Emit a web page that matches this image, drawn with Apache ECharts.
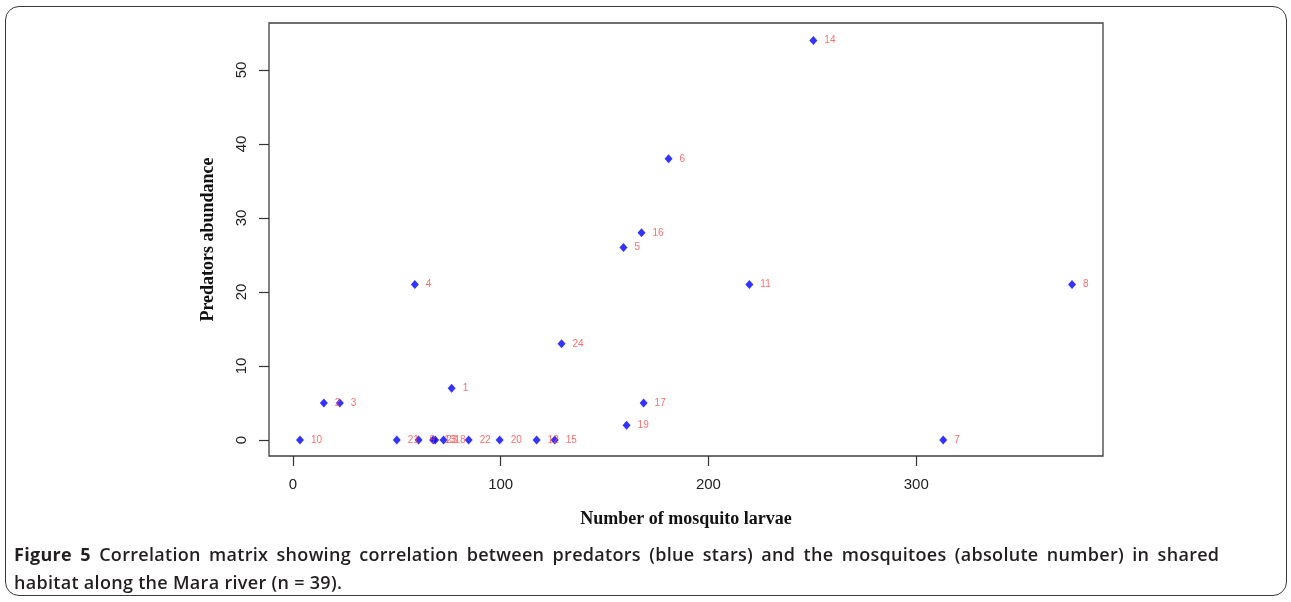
<!DOCTYPE html>
<html>
<head>
<meta charset="utf-8">
<script src="https://cdn.jsdelivr.net/npm/echarts@6/dist/echarts.min.js"></script>
<style>
  html, body { margin: 0; padding: 0; background: #fff; }
  #wrap { position: relative; width: 1291px; height: 602px; overflow: hidden; }
  #frame { position: absolute; left: 5px; top: 6px; width: 1282px; height: 590px;
           border: 1.5px solid #3a3a3a; border-radius: 14px; box-sizing: border-box; }
  #chart { position: absolute; left: 0; top: 0; width: 1291px; height: 602px; }
  #caption { position: absolute; left: 14px; top: 540px; width: 1270px; white-space: nowrap;
             font-family: "Open Sans", sans-serif; font-size: 18px; line-height: 28px;
             color: #231f20; font-weight: 600; letter-spacing: 0.3px; }
  #caption b { font-weight: 700; }
  #caption .l1 { word-spacing: 3.3px; }
</style>
</head>
<body>
<div id="wrap">
  <div id="frame"></div>
  <div id="chart"></div>
  <div id="caption"><span class="l1"><b>Figure 5</b> Correlation matrix showing correlation between predators (blue stars) and the mosquitoes (absolute number) in shared</span><br>habitat along the Mara river (n = 39).</div>
</div>
<script>
// Sample ids, larvae counts (x) and predator abundance (y)
var ids    = ['10','21','9','13','23','18','22','20','12','15','2','3','1','4','24','17','19','5','16','6','11','14','8','7'];
var larvae = [3.4, 50, 60.5, 67.5, 68.5, 72.5, 84.6, 99.5, 117.3, 126, 14.9, 22.6, 76.4, 58.7, 129.3, 168.8, 160.6, 159.1, 167.8, 180.8, 219.7, 250.5, 375, 313];
var predators = [0, 0, 0, 0, 0, 0, 0, 0, 0, 0, 5, 5, 7, 21, 13, 5, 2, 26, 28, 38, 21, 54, 21, 0];
var xTicks = [0, 100, 200, 300];
var yTicks = [0, 10, 20, 30, 40, 50];

var points = larvae.map(function (x, i) { return [x, predators[i], ids[i]]; });

var chart = echarts.init(document.getElementById('chart'), null, { renderer: 'canvas' });
chart.setOption({
  animation: false,
  grid: { left: 269, right: 188, top: 23, bottom: 146, show: true,
          borderColor: '#404040', borderWidth: 1.3, backgroundColor: 'transparent' },
  xAxis: {
    type: 'value', min: -11.5, max: 389.9,
    axisLine: { show: false, onZero: false },
    splitLine: { show: false },
    axisTick: { show: true, inside: false, length: 10, customValues: xTicks, lineStyle: { color: '#333', width: 1.2 } },
    axisLabel: { customValues: xTicks, margin: 21, fontFamily: 'Liberation Sans', fontSize: 15, color: '#222' },
    name: 'Number of mosquito larvae', nameLocation: 'middle', nameGap: 54,
    nameTextStyle: { fontFamily: 'Liberation Serif', fontWeight: 'bold', fontSize: 18, color: '#111' }
  },
  yAxis: {
    type: 'value', min: -2.16, max: 56.35,
    axisLine: { show: false, onZero: false },
    splitLine: { show: false },
    axisTick: { show: true, inside: false, length: 10, customValues: yTicks, lineStyle: { color: '#333', width: 1.2 } },
    axisLabel: { customValues: yTicks, margin: 20, rotate: 90, fontFamily: 'Liberation Sans', fontSize: 15, color: '#222' },
    name: 'Predators abundance', nameLocation: 'middle', nameGap: 52,
    nameTextStyle: { fontFamily: 'Liberation Serif', fontWeight: 'bold', fontSize: 18, color: '#111' }
  },
  series: [{
    type: 'scatter',
    data: points,
    symbol: 'diamond',
    symbolSize: [8, 9],
    itemStyle: { color: '#0000ff' },
    label: {
      show: true, position: 'right', distance: 7,
      formatter: function (p) { return p.data[2]; },
      fontFamily: 'Liberation Sans', fontSize: 10, color: '#ff4a4a'
    },
    labelLayout: { hideOverlap: false },
    z: 3
  }]
});
</script>
</body>
</html>
